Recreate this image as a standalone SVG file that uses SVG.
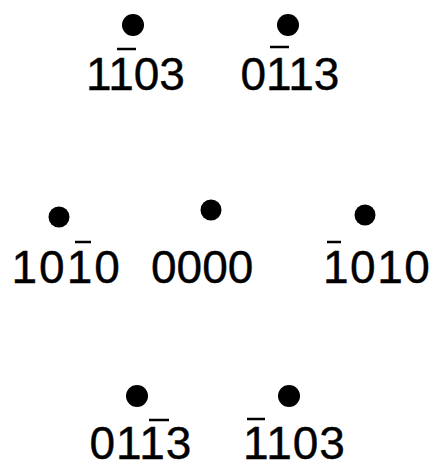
<svg xmlns="http://www.w3.org/2000/svg" width="435" height="469" viewBox="0 0 435 469">
<style>
.dot{fill:#000}
.lbl{font-family:"Liberation Sans",Arial,sans-serif;font-size:46px;fill:#000;stroke:#000;stroke-width:0.4}
.bar{stroke:#000;stroke-width:2.5;stroke-linecap:butt}
</style>
<rect width="435" height="469" fill="#fff"/>
<g id="connectors"/>
<g id="n-1-103">
<circle class="dot" cx="133" cy="25" r="11"/>
<text class="lbl" x="86" y="90">1103</text>
<line class="bar" x1="117" y1="49" x2="136" y2="49"/>
</g>
<g id="n-01-13">
<circle class="dot" cx="288" cy="25" r="11"/>
<text class="lbl" x="240.5" y="90">0113</text>
<line class="bar" x1="270" y1="47" x2="289" y2="47"/>
</g>
<g id="n-10-10">
<circle class="dot" cx="59" cy="217" r="10.5"/>
<text class="lbl" x="11.5" y="282.5" letter-spacing="2">1010</text>
<line class="bar" x1="75" y1="242" x2="91" y2="242"/>
</g>
<g id="n-0000">
<circle class="dot" cx="211" cy="210" r="10.5"/>
<text class="lbl" x="151" y="282.5">0000</text>
</g>
<g id="n--1010">
<circle class="dot" cx="365" cy="215" r="10.5"/>
<text class="lbl" x="323" y="282.5" letter-spacing="1.5">1010</text>
<line class="bar" x1="327" y1="242" x2="341" y2="242"/>
</g>
<g id="n-01-13b">
<circle class="dot" cx="137" cy="396" r="11"/>
<text class="lbl" x="89.5" y="458.5" letter-spacing="1">0113</text>
<line class="bar" x1="149" y1="420" x2="169" y2="420"/>
</g>
<g id="n--1103">
<circle class="dot" cx="289" cy="396" r="11"/>
<text class="lbl" x="243" y="458.5" letter-spacing="1">1103</text>
<line class="bar" x1="247" y1="419" x2="265" y2="419"/>
</g>
</svg>
